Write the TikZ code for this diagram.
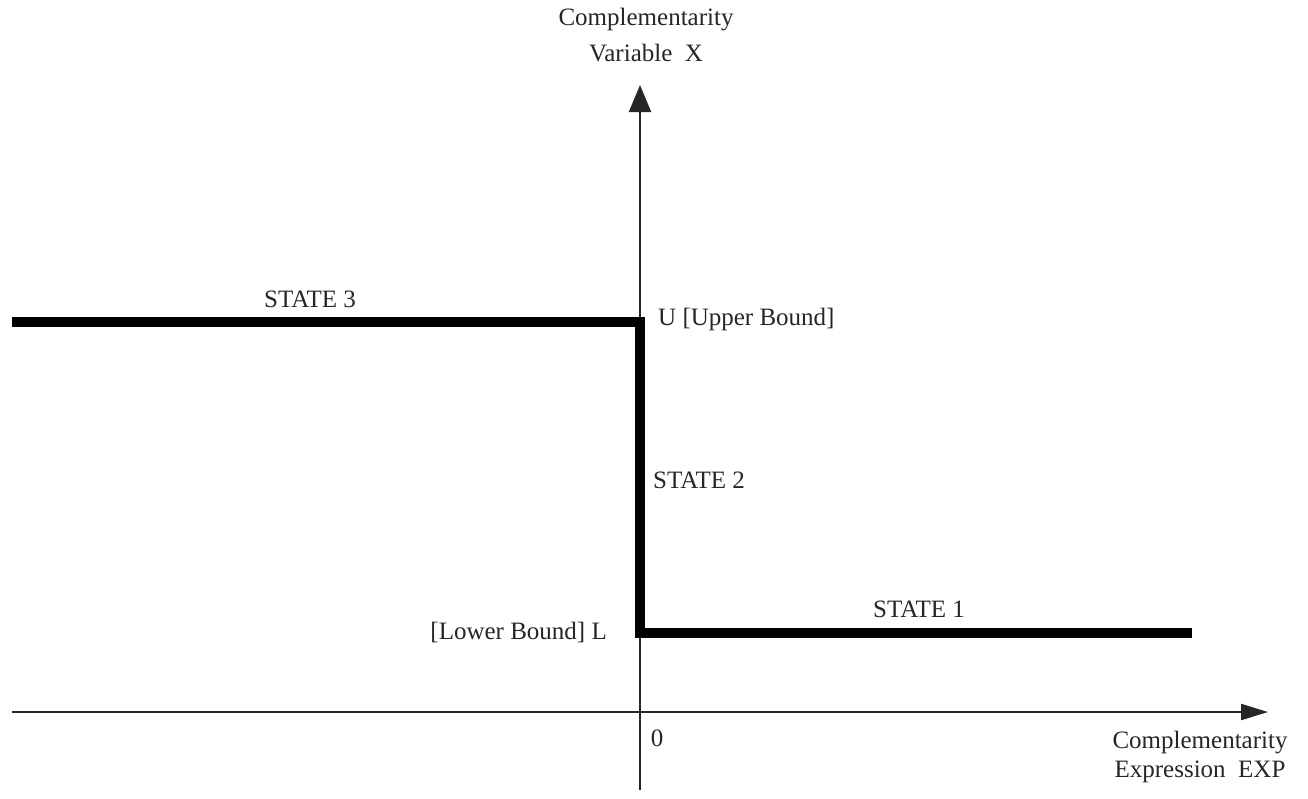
\documentclass[tikz,border=0pt]{standalone}
\usepackage{fontspec}
\setmainfont{Liberation Serif}
\usetikzlibrary{arrows.meta,positioning}

\begin{document}
\begin{tikzpicture}[x=1pt,y=-1pt,
		axis/.style={draw=black!85, line width=2pt},
		xtip/.style={-{Triangle[length=27pt,width=16pt]}},
		ytip/.style={-{Triangle[length=27pt,width=22pt]}},
		bound/.style={draw, line width=10.5pt},
		lbl/.style={font=\fontsize{25}{29}\selectfont, text=black!85,
			inner sep=0pt, anchor=base}
	]
	\useasboundingbox (0,0) rectangle (1308,798);
	% axes
	\coordinate (xs) at (12,712);
	\coordinate (xe) at (1268,712);
	\coordinate (ys) at (640,790);
	\coordinate (ye) at (640,85);
	\draw[axis, xtip] (xs) -- (xe);
	\draw[axis, ytip] (ys) -- (ye);
	% the three states
	\coordinate (left) at (12,322);
	\coordinate (upper) at (640,322);
	\coordinate (lower) at (640,633);
	\coordinate (right) at (1192,633);
	\draw[bound] (left) -- (upper) -- (lower) -- (right);
	% labels
	\node[lbl] (st3) at (310,307) {STATE 3};
	\node[lbl] (st1) at (919,617) {STATE 1};
	\node[lbl, anchor=base west] (st2) at (653,488) {STATE 2};
	\node[lbl, anchor=base west] (ub) at (658,325) {U [Upper Bound]};
	\node[lbl, anchor=base east] (lb) at (607,639) {[Lower Bound] L};
	\node[lbl] (zero) at (657,746) {0};
	\node[lbl, align=center] (yname) at (646,61)
		{Complementarity\\[7pt]Variable\ \ X};
	\node[lbl, align=center] (xname) at (1200,777)
		{Complementarity\\Expression\ \ EXP};
\end{tikzpicture}
\end{document}
